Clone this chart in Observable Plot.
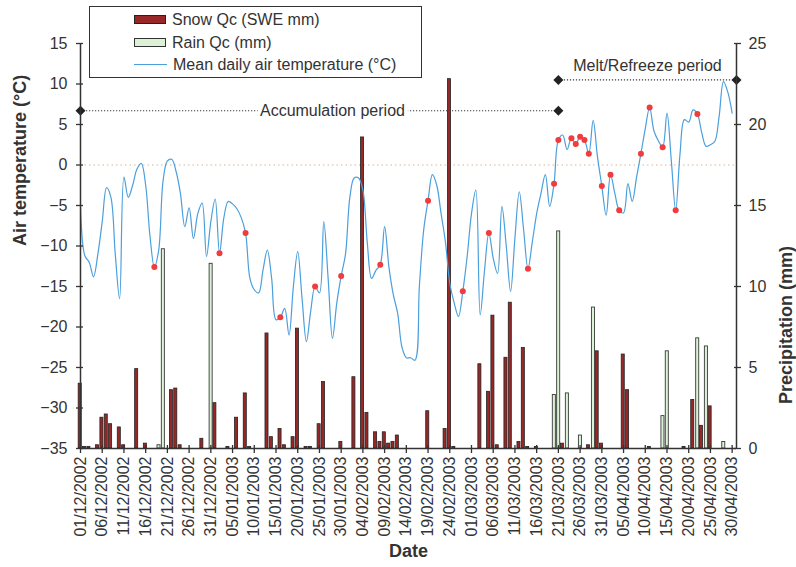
<!DOCTYPE html>
<html>
<head>
<meta charset="utf-8">
<script src="https://cdn.jsdelivr.net/npm/d3@7"></script>
<script src="https://cdn.jsdelivr.net/npm/@observablehq/plot@0.6"></script>
<style>
  body { margin: 0; background: #fff; }
  #chart { position: relative; width: 796px; height: 567px; font-family: "Liberation Sans", Arial, sans-serif; }
  #legend { position: absolute; left: 89px; top: 6px; width: 331px; height: 70px; border: 1.5px solid #333; background: #fff; color: #333; font-size: 16px; }
  .row { position: absolute; left: 44px; height: 22px; display: flex; align-items: center; white-space: nowrap; }
  .sw { width: 30px; height: 7px; margin-right: 6px; border: 1.5px solid #222; }
  .ln { width: 33px; height: 0; border-top: 1.5px solid #4a9fdc; margin-right: 6px; }
</style>
</head>
<body>
<div id="chart">
  <div id="legend">
    <div class="row" style="top:1.5px"><span class="sw" style="background:#982828"></span>Snow Qc (SWE mm)</div>
    <div class="row" style="top:24.5px"><span class="sw" style="background:#dcf2d6;border-color:#333"></span>Rain Qc (mm)</div>
    <div class="row" style="top:46.5px"><span class="ln"></span>Mean daily air temperature (°C)</div>
  </div>
</div>
<script>
// Date labels, one every five days from 01/12/2002 to 30/04/2003
const tickLabels = [
  "01/12/2002", "06/12/2002", "11/12/2002", "16/12/2002", "21/12/2002", "26/12/2002", "31/12/2002",
  "05/01/2003", "10/01/2003", "15/01/2003", "20/01/2003", "25/01/2003", "30/01/2003",
  "04/02/2003", "09/02/2003", "14/02/2003", "19/02/2003", "24/02/2003",
  "01/03/2003", "06/03/2003", "11/03/2003", "16/03/2003", "21/03/2003", "26/03/2003", "31/03/2003",
  "05/04/2003", "10/04/2003", "15/04/2003", "20/04/2003", "25/04/2003", "30/04/2003"
];

// Mean daily air temperature (°C), day 0 = 01/12/2002
const temperature = [
  -5.0, -11.2, -12.0, -13.8, -11.0, -7.0, -2.8, -4.0, -11.0, -16.5,
  -1.5, -4.0, -2.5, -0.5, 0.2, -2.5, -8.8, -12.6, -10.5, -2.0,
  0.5, 0.7, -0.8, -3.5, -7.6, -5.3, -9.1, -6.0, -4.7, -11.3,
  -7.0, -4.2, -10.9, -6.5, -4.5, -4.8, -5.4, -6.5, -8.4, -14.0,
  -15.4, -15.8, -13.0, -10.5, -14.0, -19.1, -18.8, -17.7, -21.0, -15.0,
  -10.7, -16.5, -21.8, -18.0, -15.0, -15.8, -7.0, -14.0, -21.4, -17.0,
  -13.7, -11.0, -4.0, -1.6, -1.6, -3.1, -9.5, -14.0, -13.0, -12.3,
  -7.6, -12.6, -16.0, -18.3, -22.5, -23.8, -23.8, -24.1, -15.0, -8.0,
  -4.4, -1.2, -2.5, -6.0, -9.5, -14.6, -17.0, -18.7, -15.6, -11.3,
  -6.0, -3.1, -18.5, -13.0, -8.4, -11.5, -13.4, -5.1, -10.0, -15.6,
  -9.0, -3.3, -8.0, -12.8, -9.5, -6.0, -3.5, -1.2, -5.1, -2.3,
  3.1, 3.7, 1.9, 3.3, 2.6, 3.5, 3.1, 1.4, 5.5, 1.0,
  -2.6, -6.2, -1.2, -3.5, -5.6, -5.9, -2.3, -4.5, -1.5, 1.4,
  4.5, 7.1, 4.2, 3.0, 2.2, 6.4, 0.5, -5.6, 1.4, 5.6,
  5.3, 6.8, 6.3, 4.0, 2.3, 2.5, 2.9, 6.0, 10.3, 9.0, 6.4
];

// Days highlighted with a red dot on the temperature curve
const markedDays = [17, 32, 38, 46, 54, 60, 69, 80, 88, 94, 103, 109, 110, 113, 114, 115, 116, 117, 120, 122, 124, 129, 131, 134, 137, 142];

// Snow Qc (SWE mm) by day
const snowDays = [0, 1, 2, 4, 5, 6, 7, 9, 10, 13, 15, 21, 22, 23, 28, 31, 34, 36, 38, 39, 43, 44, 46, 47, 49, 50, 52, 53, 55, 56, 60, 63, 65, 66, 68, 69, 70, 71, 72, 73, 80, 84, 85, 86, 92, 94, 95, 96, 98, 99, 101, 102, 103, 105, 111, 117, 119, 120, 125, 126, 131, 139, 141, 143, 145];
const snowMM   = [4.0, 0.1, 0.1, 0.2, 1.9, 2.1, 1.5, 1.3, 0.2, 4.9, 0.3, 3.6, 3.7, 0.2, 0.6, 2.8, 0.1, 1.9, 3.4, 0.1, 7.1, 0.7, 1.2, 0.2, 0.7, 7.4, 0.1, 0.1, 1.5, 4.1, 0.4, 4.4, 19.2, 2.2, 1.0, 0.4, 1.0, 0.3, 0.4, 0.8, 2.3, 1.2, 22.8, 0.1, 5.2, 3.5, 8.2, 0.2, 5.6, 9.0, 0.4, 6.2, 0.1, 0.1, 0.3, 0.2, 6.0, 0.3, 5.8, 3.6, 0.1, 0.1, 3.0, 1.4, 2.6];

// Rain Qc (mm) by day
const rainDays = [18, 19, 30, 109, 110, 112, 115, 118, 134, 135, 142, 144, 148];
const rainMM   = [0.2, 12.3, 11.4, 3.3, 13.4, 3.4, 0.8, 8.7, 2.0, 6.0, 6.8, 6.3, 0.4];

// Period annotations (start/end day, level on the temperature scale)
const periodNames  = ["Accumulation period", "Melt/Refreeze period"];
const periodStart  = [0, 110];
const periodEnd    = [110, 151];
const periodLevel  = [6.7, 10.5];

const tempTicks = [-35, -30, -25, -20, -15, -10, -5, 0, 5, 10, 15];
const precipTicks = [0, 5, 10, 15, 20, 25];

// Secondary axis: 0–25 mm spans the same height as -35–15 °C
const tMin = -35, tMax = 15, pMax = 25;
const mmToT = mm => tMin + mm * (tMax - tMin) / pMax;

const snow = snowDays.map((day, i) => ({day, mm: snowMM[i]}));
const rain = rainDays.map((day, i) => ({day, mm: rainMM[i]}));
const periods = periodNames.map((name, i) => ({name, start: periodStart[i], end: periodEnd[i], level: periodLevel[i]}));
const tickDays = tickLabels.map((_, i) => i * 5);

const ink = "#333";

const chart = Plot.plot({
  width: 796,
  height: 567,
  marginLeft: 80,
  marginRight: 60,
  marginTop: 43,
  marginBottom: 119,
  x: {domain: [0, 151]},
  y: {domain: [tMin, tMax]},
  style: {fontFamily: "'Liberation Sans', Arial, sans-serif", fontSize: "16px", color: ink, background: "#fff", overflow: "visible"},
  marks: [
    Plot.ruleY([0], {stroke: "#e0b49c", strokeWidth: 1.2, strokeDasharray: "1.5,3"}),
    Plot.ruleY(periods, {y: "level", x1: "start", x2: "end", stroke: "#3a3a3a", strokeWidth: 1.2, strokeDasharray: "1.2,1.8"}),
    Plot.rectY(snow, {x1: d => d.day - 0.42, x2: d => d.day + 0.28, y1: tMin, y2: d => mmToT(d.mm), fill: "#982828", stroke: "#222", strokeWidth: 0.8}),
    Plot.rectY(rain, {x1: d => d.day - 0.28, x2: d => d.day + 0.42, y1: tMin, y2: d => mmToT(d.mm), fill: "#dcf2d6", stroke: "#3a3a3a", strokeWidth: 0.9}),
    Plot.line(temperature, {x: (d, i) => i, y: d => d, stroke: "#4a9fdc", strokeWidth: 1.2, curve: "catmull-rom"}),
    Plot.dot(markedDays, {x: d => d, y: d => temperature[d], r: 3, fill: "#f03c3c"}),
    Plot.dot(periods.flatMap(p => [{x: p.start, y: p.level}, {x: p.end, y: p.level}]), {x: "x", y: "y", symbol: "diamond2", r: 4.5, fill: "#222"}),
    Plot.text(periods.slice(0, 1), {x: d => (d.start + d.end) / 2, y: "level", text: "name", dx: 13, fill: ink, stroke: "#fff", strokeWidth: 8, fontSize: 16}),
    Plot.text(periods.slice(1), {x: d => (d.start + d.end) / 2, y: "level", text: "name", dy: -14, fill: ink, fontSize: 16}),
    // axis lines
    Plot.ruleX([0, 151], {stroke: ink, strokeWidth: 1.5}),
    Plot.ruleY([tMin], {stroke: ink, strokeWidth: 1.5}),
    // axes
    Plot.axisY(tempTicks, {anchor: "left", tickSize: 7, dx: 3, tickPadding: 9, label: null, stroke: ink, strokeWidth: 1.3}),
    Plot.axisY(precipTicks.map(mmToT), {anchor: "right", tickSize: 7, dx: -3, tickPadding: 8, tickFormat: d => String(Math.round((d - tMin) * pMax / (tMax - tMin))), label: null, stroke: ink, strokeWidth: 1.3}),
    Plot.axisX(tickDays, {anchor: "bottom", tickSize: 8, dy: -3, tickPadding: 3, tickRotate: -90, tickFormat: d => tickLabels[d / 5], label: null, stroke: ink, strokeWidth: 1.3}),
    // axis titles
    Plot.text(["Air temperature (°C)"], {text: d => d, frameAnchor: "left", dx: -60, rotate: -90, fontWeight: "bold", fontSize: 18, fill: ink}),
    Plot.text(["Precipitation (mm)"], {text: d => d, frameAnchor: "right", dx: 50, rotate: -90, fontWeight: "bold", fontSize: 18, fill: ink}),
    Plot.text(["Date"], {text: d => d, frameAnchor: "bottom", dy: 108, fontWeight: "bold", fontSize: 18, fill: ink})
  ]
});

const host = document.getElementById("chart");
host.insertBefore(chart, document.getElementById("legend"));
</script>
</body>
</html>
